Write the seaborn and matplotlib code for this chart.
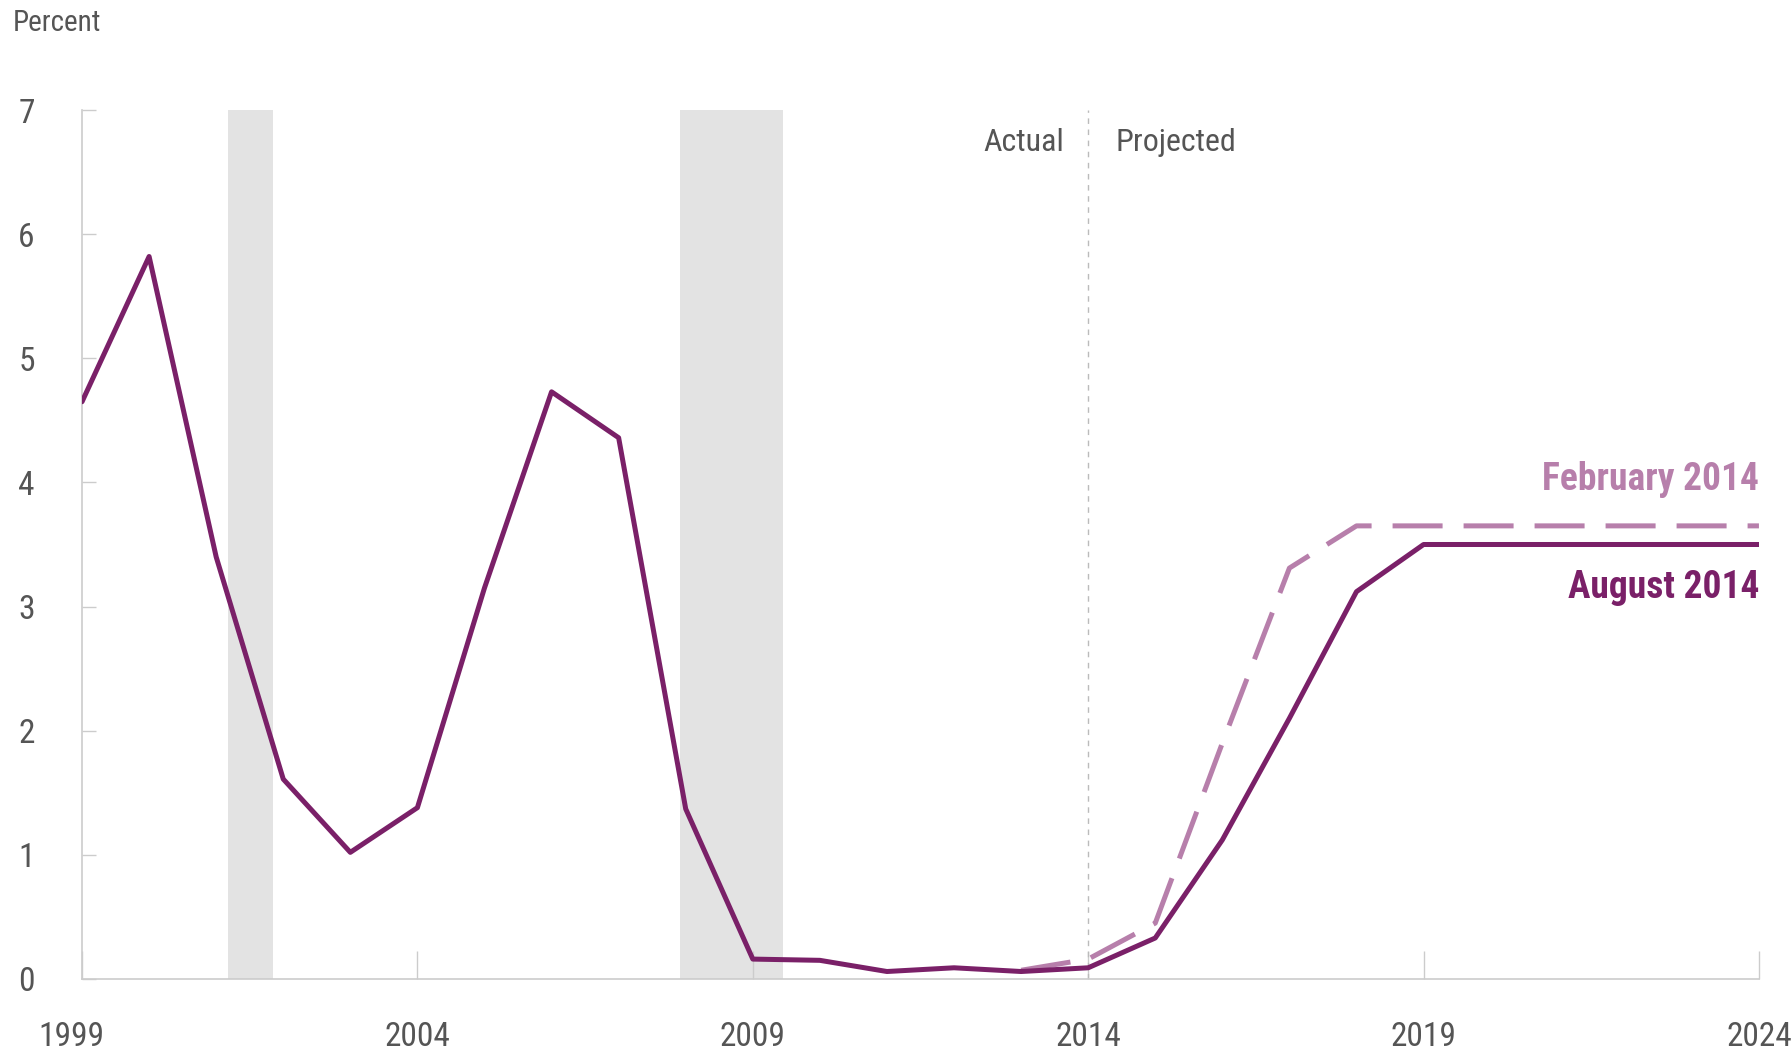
import matplotlib
matplotlib.use("Agg")
import matplotlib.pyplot as plt
from matplotlib import font_manager
import seaborn as sns
import pandas as pd

# ---- data ----
years_actual = list(range(1999, 2025))
august_2014 = [4.65, 5.82, 3.40, 1.61, 1.02, 1.38, 3.15, 4.73, 4.36, 1.37,
               0.16, 0.15, 0.06, 0.09, 0.06, 0.09, 0.33, 1.12, 2.10, 3.12,
               3.50, 3.50, 3.50, 3.50, 3.50, 3.50]
years_feb = list(range(2013, 2025))
february_2014 = [0.07, 0.16, 0.45, 1.90, 3.31, 3.65, 3.65, 3.65, 3.65, 3.65, 3.65, 3.65]
recessions = [(2001.17, 2001.85), (2007.92, 2009.45)]
x_ticks = [1999, 2004, 2009, 2014, 2019, 2024]
y_ticks = [0, 1, 2, 3, 4, 5, 6, 7]

sns.set_theme(style="white")
avail = {f.name for f in font_manager.fontManager.ttflist}
fam = None
for cand in ["Liberation Sans Narrow", "DejaVu Sans Condensed", "Roboto Condensed", "Open Sans Condensed", "Roboto"]:
    if cand in avail:
        fam = cand
        break
if fam is None:
    fam = "DejaVu Sans"
plt.rcParams['font.family'] = [fam, 'DejaVu Sans']

dark = "#7A2068"
light = "#B77FAB"
textc = "#555555"
axc = "#CCCCCC"

fig = plt.figure(figsize=(17.91, 10.54), dpi=100)
ax = fig.add_axes([0.0458, 0.0712, 0.9363, 0.8244])

for a, b in recessions:
    ax.axvspan(a, b, ymin=0, ymax=1, color="#E3E3E3", lw=0, zorder=0)

ax.axvline(2014, color="#BBBBBB", lw=1.0, ls=(0, (4, 4)), zorder=1)

df_a = pd.DataFrame({"year": years_actual, "value": august_2014})
df_f = pd.DataFrame({"year": years_feb, "value": february_2014})
sns.lineplot(data=df_f, x="year", y="value", ax=ax, color=light, lw=3.6,
             dashes=False, zorder=2)
ax.lines[-1].set_dashes([10, 4.2])
ax.lines[-1].set_dash_capstyle("butt")
sns.lineplot(data=df_a, x="year", y="value", ax=ax, color=dark, lw=3.6, zorder=3)

ax.set_xlim(1999, 2024)
ax.set_ylim(0, 7)
ax.set_xlabel("")
ax.set_ylabel("")
ax.set_xticks(x_ticks)
ax.set_xticklabels([""] + [str(t) for t in x_ticks[1:]])
ax.set_yticks(y_ticks)
ax.set_yticklabels([str(t) for t in y_ticks])

for s in ["top", "right"]:
    ax.spines[s].set_visible(False)
for s in ["left", "bottom"]:
    ax.spines[s].set_color(axc)
    ax.spines[s].set_linewidth(1.2)

ax.tick_params(axis="x", direction="in", length=20, width=1.0, color=axc,
               labelsize=24, labelcolor=textc, pad=30)
ax.tick_params(axis="y", direction="in", length=10, width=1.0, color=axc,
               labelsize=24, labelcolor=textc, pad=34, left=True)
ax.tick_params(bottom=True)

# first x label, shifted slightly left like the reference
ax.annotate(str(x_ticks[0]), xy=(x_ticks[0], 0), xytext=(-8, -30),
            textcoords="offset points", ha="center", va="top",
            fontsize=24, color=textc, annotation_clip=False)

ax.text(2013.65, 6.74, "Actual", ha="right", va="center", fontsize=23, color=textc)
ax.text(2014.4, 6.74, "Projected", ha="left", va="center", fontsize=23, color=textc)

ax.text(2024, 4.02, "February 2014", ha="right", va="center", fontsize=27,
        color=light, fontweight="bold")
ax.text(2024, 3.15, "August 2014", ha="right", va="center", fontsize=27,
        color=dark, fontweight="bold")

fig.text(0.007, 0.978, "Percent", ha="left", va="center", fontsize=21, color=textc)

fig.savefig("out.png", dpi=100, facecolor="white")
